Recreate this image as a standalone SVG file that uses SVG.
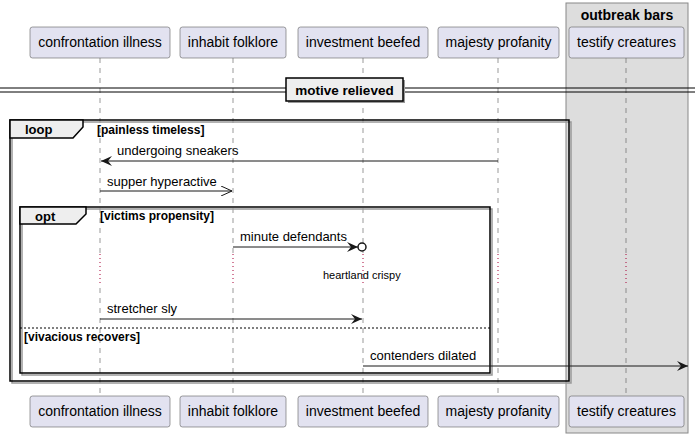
<svg xmlns="http://www.w3.org/2000/svg" width="695" height="438" viewBox="0 0 695 438">
<defs>
<style>
text{font-family:"Liberation Sans",Arial,sans-serif;fill:#000}
.p{font-size:14px;text-anchor:middle}
.m{font-size:13px}
.b{font-size:12px;font-weight:bold}
.pbox{fill:#E2E2F0;stroke:#5E5E5E;stroke-width:0.6}
.life{stroke:#555;stroke-width:0.6;stroke-dasharray:5,5}
.delay{stroke:#A80036;stroke-width:1;stroke-dasharray:1,3}
.msg{stroke:#181818;stroke-width:1;fill:none}
.shadow{fill:none;stroke:#999;stroke-width:1.5}
.tab{fill:#EEEEEE;stroke:#000;stroke-width:1.5}
</style>
<marker id="filled" markerWidth="12" markerHeight="10" refX="11" refY="5" orient="auto" markerUnits="userSpaceOnUse">
<polygon points="0,0 11,5 0,10 4,5" fill="#181818"/>
</marker>
<marker id="open" markerWidth="12" markerHeight="10" refX="11" refY="5" orient="auto" markerUnits="userSpaceOnUse">
<polyline points="0,0 11,5 0,10" fill="none" stroke="#181818" stroke-width="1"/>
</marker>
</defs>
<rect width="695" height="438" fill="#fff"/>
<g id="group-outbreak-bars">
<rect x="566" y="3" width="122" height="430" fill="#DDDDDD" stroke="#888" stroke-width="1"/>
<text x="627" y="20" style="font-size:14px;font-weight:bold;text-anchor:middle">outbreak bars</text>
</g>
<g id="lifelines">
<line x1="100" y1="58" x2="100" y2="396" class="life"/>
<line x1="233" y1="58" x2="233" y2="396" class="life"/>
<line x1="363" y1="58" x2="363" y2="396" class="life"/>
<line x1="498" y1="58" x2="498" y2="396" class="life"/>
<line x1="626" y1="58" x2="626" y2="396" class="life"/>
</g>
<g id="delays">
<rect x="96" y="254" width="8" height="31" fill="#fff"/>
<rect x="229" y="254" width="8" height="31" fill="#fff"/>
<rect x="359" y="254" width="8" height="31" fill="#fff"/>
<rect x="494" y="254" width="8" height="31" fill="#fff"/>
<rect x="622" y="254" width="8" height="31" fill="#DDDDDD"/>
<line x1="100" y1="254" x2="100" y2="285" class="delay"/>
<line x1="233" y1="254" x2="233" y2="285" class="delay"/>
<line x1="363" y1="254" x2="363" y2="285" class="delay"/>
<line x1="498" y1="254" x2="498" y2="285" class="delay"/>
<line x1="626" y1="254" x2="626" y2="285" class="delay"/>
<text x="323" y="279" style="font-size:11px">heartland crispy</text>
</g>
<g id="divider">
<line x1="0" y1="88" x2="695" y2="88" stroke="#000" stroke-width="1"/>
<line x1="0" y1="92" x2="695" y2="92" stroke="#000" stroke-width="1"/>
<rect x="288" y="80" width="117" height="23" fill="#999"/>
<rect x="286" y="78" width="117" height="23" fill="#EEEEEE" stroke="#000" stroke-width="1.5"/>
<text x="344.5" y="95" style="font-size:13.5px;font-weight:bold;text-anchor:middle">motive relieved</text>
</g>
<g id="frame-loop">
<rect x="12" y="122" width="559" height="261" class="shadow"/>
<rect x="10" y="120" width="559" height="261" fill="none" stroke="#000" stroke-width="1.5"/>
<polygon points="10,120 83,120 83,127 73,138 10,138" class="tab"/>
<text x="25" y="134" class="m" style="font-weight:bold">loop</text>
<text x="97" y="134" class="b">[painless timeless]</text>
</g>
<g id="frame-opt">
<rect x="22" y="209" width="470" height="166" class="shadow"/>
<rect x="20" y="207" width="470" height="166" fill="none" stroke="#000" stroke-width="1.5"/>
<polygon points="20,207 86,207 86,214 76,224 20,224" class="tab"/>
<text x="35" y="221" class="m" style="font-weight:bold">opt</text>
<text x="100" y="220" class="b">[victims propensity]</text>
<line x1="20" y1="328" x2="490" y2="328" stroke="#000" stroke-width="1" stroke-dasharray="2,2"/>
<text x="24" y="341" class="b">[vivacious recovers]</text>
</g>
<g id="connectors">
<line x1="498" y1="161" x2="101" y2="161" class="msg" marker-end="url(#filled)"/>
<text x="117" y="155" class="m">undergoing sneakers</text>
<line x1="100" y1="191" x2="232" y2="191" class="msg" marker-end="url(#open)"/>
<text x="107" y="186" class="m">supper hyperactive</text>
<line x1="233" y1="247" x2="358" y2="247" class="msg" marker-end="url(#filled)"/>
<circle cx="362" cy="247" r="4" fill="#fff" stroke="#181818" stroke-width="1.5"/>
<text x="240" y="241" class="m">minute defendants</text>
<line x1="100" y1="319" x2="362" y2="319" class="msg" marker-end="url(#filled)"/>
<text x="107" y="313" class="m">stretcher sly</text>
<line x1="363" y1="366" x2="688" y2="366" class="msg" marker-end="url(#filled)"/>
<text x="370" y="360" class="m">contenders dilated</text>
</g>
<g id="p-confrontation-illness">
<rect x="30" y="27" width="140" height="31" rx="2.5" class="pbox"/>
<text x="100" y="47" class="p">confrontation illness</text>
<rect x="30" y="396" width="140" height="31" rx="2.5" class="pbox"/>
<text x="100" y="416" class="p">confrontation illness</text>
</g>
<g id="p-inhabit-folklore">
<rect x="180" y="27" width="106" height="31" rx="2.5" class="pbox"/>
<text x="233" y="47" class="p">inhabit folklore</text>
<rect x="180" y="396" width="106" height="31" rx="2.5" class="pbox"/>
<text x="233" y="416" class="p">inhabit folklore</text>
</g>
<g id="p-investment-beefed">
<rect x="298" y="27" width="130" height="31" rx="2.5" class="pbox"/>
<text x="363" y="47" class="p">investment beefed</text>
<rect x="298" y="396" width="130" height="31" rx="2.5" class="pbox"/>
<text x="363" y="416" class="p">investment beefed</text>
</g>
<g id="p-majesty-profanity">
<rect x="438" y="27" width="121" height="31" rx="2.5" class="pbox"/>
<text x="498.5" y="47" class="p">majesty profanity</text>
<rect x="438" y="396" width="121" height="31" rx="2.5" class="pbox"/>
<text x="498.5" y="416" class="p">majesty profanity</text>
</g>
<g id="p-testify-creatures">
<rect x="569" y="27" width="115" height="31" rx="2.5" class="pbox"/>
<text x="626.5" y="47" class="p">testify creatures</text>
<rect x="569" y="396" width="115" height="31" rx="2.5" class="pbox"/>
<text x="626.5" y="416" class="p">testify creatures</text>
</g>
</svg>
